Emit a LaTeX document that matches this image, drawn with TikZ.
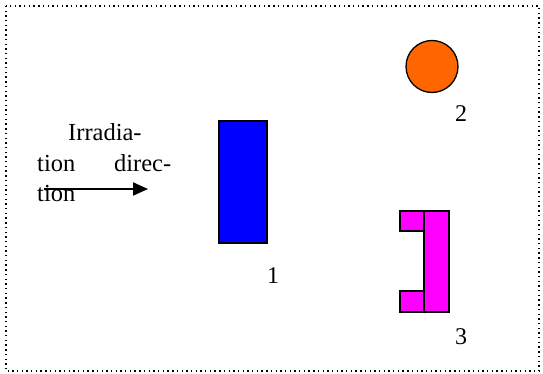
\documentclass[tikz,border=0pt]{standalone}
\usepackage{fontspec}
\setmainfont{Liberation Serif}
\usetikzlibrary{arrows.meta}
\definecolor{probeblue}{RGB}{0,0,255}
\definecolor{kugelorange}{RGB}{255,102,0}
\definecolor{halter}{RGB}{255,0,255}

\begin{document}
\begin{tikzpicture}[x=1pt, y=-1pt,
        teil/.style={draw=black, line width=1.3pt},
        nummer/.style={font=\fontsize{24}{26}\selectfont, inner sep=0pt}]
        \useasboundingbox (0,0) rectangle (543,374);

        % Rahmen
        \draw[line width=1.4pt, dash pattern=on 1.4pt off 3.3pt]
            (6,6) rectangle (539,371);

        % Strahlrichtung
        \node[anchor=north west, inner sep=0pt, text width=134pt, align=left,
              font=\fontsize{24.5}{30.5}\selectfont] (richtung) at (37,123.5)
            {\hspace*{31pt}Irradia-\\tion\hfill direc-\\tion};
        \coordinate (pfeilstart) at (44,189);
        \coordinate (pfeilende) at (148,189);
        \draw[line width=2pt, -{Triangle[length=15pt, width=13pt]}]
            (pfeilstart) -- (pfeilende);

        % Teil 1
        \draw[teil, fill=probeblue] (219,121) rectangle (267,243);
        \node[nummer] (eins) at (273,276) {1};

        % Teil 2
        \draw[teil, fill=kugelorange] (432,66.5) circle (26);
        \node[nummer] (zwei) at (461,114) {2};

        % Teil 3
        \draw[teil, fill=halter] (400,211) rectangle (425,231); % oben
        \draw[teil, fill=halter] (400,291) rectangle (425,312); % unten
        \draw[teil, fill=halter] (424,211) rectangle (449,312);
        \node[nummer] (drei) at (461,337) {3};
\end{tikzpicture}
\end{document}
